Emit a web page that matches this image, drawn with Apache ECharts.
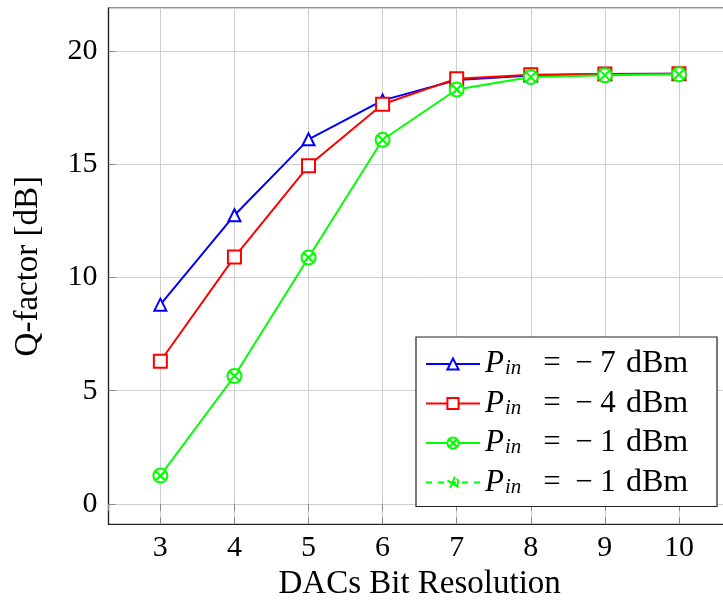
<!DOCTYPE html>
<html>
<head>
<meta charset="utf-8">
<script src="https://cdn.jsdelivr.net/npm/echarts@6/dist/echarts.min.js"></script>
<style>html,body{margin:0;padding:0;background:#fff}#c{width:723px;height:608px}</style>
</head>
<body>
<div id="c"></div>
<script>
const bits = [3, 4, 5, 6, 7, 8, 9, 10];
const qMinus7 = [8.8, 12.75, 16.1, 17.82, 18.72, 18.92, 18.98, 19.0];
const qMinus4 = [6.3, 10.9, 14.93, 17.65, 18.78, 18.95, 18.99, 19.0];
const qMinus1 = [1.25, 5.65, 10.88, 16.08, 18.3, 18.85, 18.93, 18.97];
const seriesNames = ['a', 'b', 'c', 'd'];
const legendPower = ['−7', '−4', '−1', '−1'];
const xTitle = 'DACs Bit Resolution';
const yTitle = 'Q-factor [dB]';

const FONT = 'Liberation Serif';
const toPairs = (ys) => bits.map((x, i) => [x, ys[i]]);
const otimes = 'path://M0,-10A10,10 0 1,1 0,10A10,10 0 1,1 0,-10ZM-7,-7L7,7M7,-7L-7,7';
const weird = 'path://M-6,-2L6,6M2,-6L-3,7M4,-4A6,6 0 0,1 4,4';

const chart = echarts.init(document.getElementById('c'), null, {renderer: 'canvas'});
chart.setOption({
  animation: false,
  backgroundColor: '#fff',
  grid: {left: 108.5, width: 622.3, top: 8, height: 516.3, outerBoundsMode: 'none', containLabel: false,
         show: true, borderColor: '#222', borderWidth: 1.2},
  xAxis: [{
    type: 'value', min: 2.3, max: 10.7, minInterval: 1, maxInterval: 1,
    name: xTitle, nameLocation: 'middle', nameGap: 44,
    nameTextStyle: {fontFamily: FONT, fontSize: 33, color: '#000'},
    axisLine: {show: true, onZero: false, lineStyle: {color: '#222', width: 1.2}},
    axisTick: {inside: true, length: 7, lineStyle: {color: '#888'}},
    axisLabel: {showMinLabel: false, showMaxLabel: false, margin: 9, fontFamily: FONT, fontSize: 30, color: '#000'},
    splitLine: {show: true, lineStyle: {color: '#cfcfcf', width: 1}}
  }, {
    type: 'value', position: 'top', min: 2.3, max: 10.7, minInterval: 1, maxInterval: 1,
    axisLine: {show: false}, axisLabel: {show: false},
    axisTick: {inside: true, length: 7, lineStyle: {color: '#888'}},
    splitLine: {show: false}
  }],
  yAxis: {
    type: 'value', min: -0.9, max: 21.9, minInterval: 5, maxInterval: 5,
    name: yTitle, nameLocation: 'middle', nameGap: 64, nameRotate: 90,
    nameTextStyle: {fontFamily: FONT, fontSize: 33, color: '#000'},
    axisLine: {show: true, onZero: false, lineStyle: {color: '#222', width: 1.2}},
    axisTick: {inside: true, length: 7, lineStyle: {color: '#888'}},
    axisLabel: {showMinLabel: false, showMaxLabel: false, margin: 11, fontFamily: FONT, fontSize: 30, color: '#000'},
    splitLine: {show: true, lineStyle: {color: '#cfcfcf', width: 1}}
  },
  legend: {
    left: 416, top: 337, orient: 'vertical',
    backgroundColor: '#fff', borderColor: '#222', borderWidth: 1.2,
    padding: [11, 24, 8, 9], itemGap: 7.5, itemWidth: 54, itemHeight: 14,
    data: seriesNames,
    formatter: (n) => '{p|P}{s|in}{e|=}{m|−}{n|' + legendPower[seriesNames.indexOf(n)].slice(1) + '}{d|dBm}',
    textStyle: {
      fontFamily: FONT, fontSize: 30, color: '#000', lineHeight: 30,
      rich: {
        p: {fontFamily: FONT, fontSize: 31, fontStyle: 'italic', lineHeight: 30, width: 20},
        s: {fontFamily: FONT, fontSize: 21, fontStyle: 'italic', lineHeight: 20, verticalAlign: 'bottom', padding: [8, 0, 0, 0], width: 26},
        e: {fontFamily: FONT, fontSize: 31, lineHeight: 30, width: 42, align: 'center'},
        m: {fontFamily: FONT, fontSize: 31, lineHeight: 30, width: 22, align: 'right'},
        n: {fontFamily: FONT, fontSize: 31, lineHeight: 30, width: 26, align: 'center'},
        d: {fontFamily: FONT, fontSize: 32, lineHeight: 30, width: 72, align: 'center'}
      }
    }
  },
  series: [
    {name: seriesNames[0], type: 'line', data: toPairs(qMinus7), symbol: 'emptyTriangle', symbolSize: 12,
     lineStyle: {color: '#0000ff', width: 2}, itemStyle: {color: '#0000ff', borderWidth: 2}, z: 3},
    {name: seriesNames[1], type: 'line', data: toPairs(qMinus4), symbol: 'emptyRect', symbolSize: 13,
     lineStyle: {color: '#ff0000', width: 2}, itemStyle: {color: '#ff0000', borderWidth: 2}, z: 4},
    {name: seriesNames[2], type: 'line', data: toPairs(qMinus1), symbol: otimes, symbolSize: 14,
     lineStyle: {color: '#00ff00', width: 2}, itemStyle: {color: '#fff', borderColor: '#00ff00', borderWidth: 2}, z: 5},
    {name: seriesNames[3], type: 'line', data: [], symbol: weird, symbolSize: 10,
     lineStyle: {color: '#00ff00', width: 1, type: [6, 6]}, itemStyle: {color: 'none', borderColor: '#00ff00', borderWidth: 1}, z: 2}
  ]
});
</script>
</body>
</html>
